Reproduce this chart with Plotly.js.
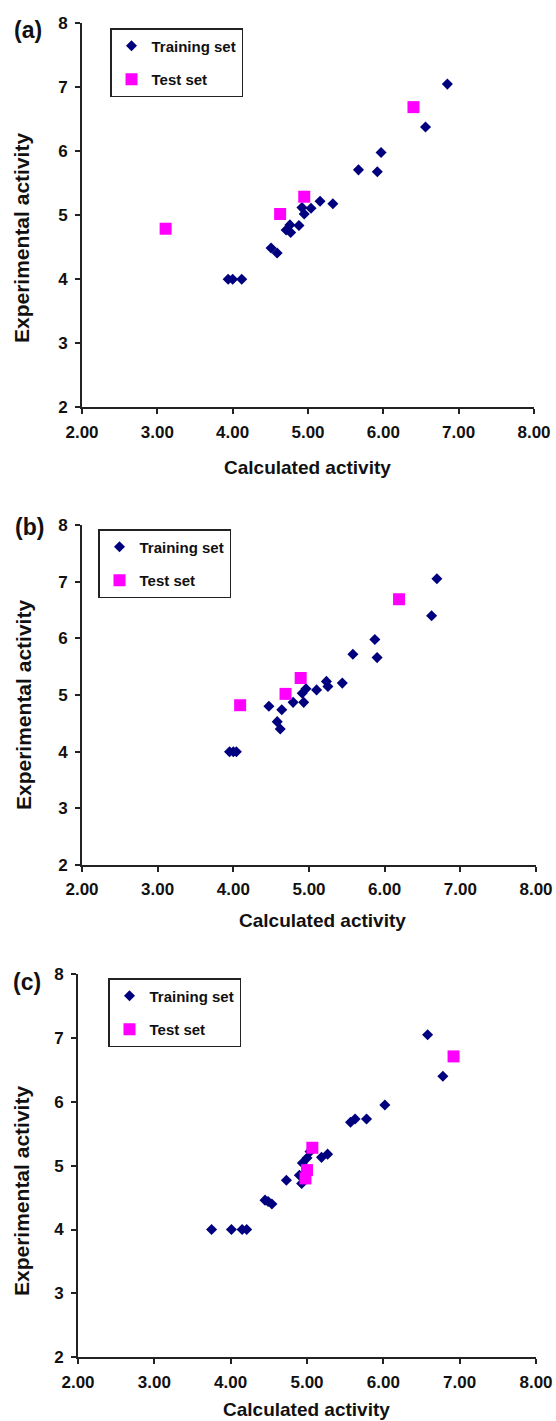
<!DOCTYPE html>
<html>
<head>
<meta charset="utf-8">
<script src="https://cdn.plot.ly/plotly-3.0.1.min.js"></script>
<style>
  html, body { margin: 0; padding: 0; background: #fff; }
  #chart { width: 556px; height: 1421px; }
</style>
</head>
<body>
<div id="chart"></div>
<script>
// ---------- data ----------
const xTicks = [2, 3, 4, 5, 6, 7, 8];
const yTicks = [2, 3, 4, 5, 6, 7, 8];
const seriesNames = ["Training set", "Test set"];
const panelLabels = ["(a)", "(b)", "(c)"];
const xTitle = "Calculated activity";
const yTitle = "Experimental activity";

// Panel (a)
const aTrainX = [6.85, 6.56, 5.97, 5.67, 5.92, 5.33, 5.16, 5.04, 4.92, 4.95, 4.88, 4.76, 4.71, 4.77, 4.51, 4.59, 3.94, 4.00, 4.12];
const aTrainY = [7.05, 6.38, 5.98, 5.71, 5.68, 5.18, 5.22, 5.11, 5.12, 5.02, 4.84, 4.85, 4.77, 4.73, 4.49, 4.41, 4.00, 4.00, 4.00];
const aTestX  = [6.40, 4.95, 4.63, 3.11];
const aTestY  = [6.69, 5.29, 5.02, 4.79];

// Panel (b)
const bTrainX = [6.69, 6.62, 5.87, 5.58, 5.90, 5.44, 5.23, 5.25, 5.10, 4.96, 4.91, 4.93, 4.79, 4.47, 4.64, 4.58, 4.62, 3.95, 4.00, 4.04];
const bTrainY = [7.05, 6.40, 5.98, 5.72, 5.66, 5.21, 5.24, 5.15, 5.09, 5.11, 5.03, 4.87, 4.87, 4.80, 4.74, 4.53, 4.40, 4.00, 4.00, 4.00];
const bTestX  = [6.19, 4.89, 4.69, 4.09];
const bTestY  = [6.69, 5.30, 5.02, 4.82];

// Panel (c)
const cTrainX = [6.58, 6.78, 6.02, 5.78, 5.63, 5.57, 5.27, 5.19, 5.04, 5.00, 4.94, 4.90, 4.93, 4.73, 4.45, 4.54, 4.49, 3.75, 4.01, 4.15, 4.21];
const cTrainY = [7.05, 6.40, 5.95, 5.73, 5.73, 5.68, 5.18, 5.13, 5.22, 5.12, 5.04, 4.85, 4.72, 4.77, 4.46, 4.40, 4.44, 4.00, 4.00, 4.00, 4.00];
const cTestX  = [6.92, 5.07, 5.00, 4.98];
const cTestY  = [6.71, 5.28, 4.93, 4.80];

// ---------- layout helpers ----------
const W = 556, H = 1421;
const px = v => v / W;
const py = v => 1 - v / H;
const FONT = "Liberation Sans, Arial, Helvetica, sans-serif";
const INK = "#111";
const LINE = "#222";
const NAVY = "#00007f";
const MAGENTA = "#ff00ff";

const panels = [
  { trX: aTrainX, trY: aTrainY, teX: aTestX, teY: aTestY,
    xd: [82, 534], yd: [23.3, 407.3], leg: [110, 28],
    lab: [28, 30], xt: [307, 467], yt: [21, 238] },
  { trX: bTrainX, trY: bTrainY, teX: bTestX, teY: bTestY,
    xd: [82, 536], yd: [525, 865], leg: [98, 529],
    lab: [29, 527], xt: [322, 921], yt: [23, 705] },
  { trX: cTrainX, trY: cTrainY, teX: cTestX, teY: cTestY,
    xd: [78, 536], yd: [974, 1357.3], leg: [108, 978],
    lab: [27, 982], xt: [306, 1409], yt: [21, 1191] }
];

const data = [];
const layout = {
  width: W, height: H,
  margin: { l: 0, r: 0, t: 0, b: 0 },
  paper_bgcolor: "#fff", plot_bgcolor: "#fff",
  showlegend: true,
  font: { family: FONT, color: INK },
  annotations: [],
  hovermode: false
};

panels.forEach((p, i) => {
  const n = i + 1;
  const xa = n === 1 ? "x" : "x" + n;
  const ya = n === 1 ? "y" : "y" + n;
  const legName = n === 1 ? "legend" : "legend" + n;

  data.push({
    type: "scatter", mode: "markers", name: seriesNames[0],
    x: p.trX, y: p.trY, xaxis: xa, yaxis: ya,
    legend: legName, legendgroup: "g" + n + "a",
    marker: { symbol: "diamond", size: 8.5, color: NAVY, line: { width: 0 } },
    cliponaxis: false
  });
  data.push({
    type: "scatter", mode: "markers", name: seriesNames[1],
    x: p.teX, y: p.teY, xaxis: xa, yaxis: ya,
    legend: legName, legendgroup: "g" + n + "b",
    marker: { symbol: "square", size: 12, color: MAGENTA, line: { width: 0 } },
    cliponaxis: false
  });

  const axBase = {
    showline: true, linecolor: LINE, linewidth: 2,
    ticks: "outside", ticklen: 5, tickwidth: 2, tickcolor: LINE,
    showgrid: false, zeroline: false, fixedrange: true,
    ticklabeloverflow: "allow",
    tickfont: { family: FONT, size: 17, color: INK }
  };
  layout[n === 1 ? "xaxis" : "xaxis" + n] = Object.assign({}, axBase, {
    domain: [px(p.xd[0]), px(p.xd[1])],
    anchor: ya, range: [2, 8],
    tickmode: "array", tickvals: xTicks,
    ticktext: xTicks.map(v => "<b>" + v.toFixed(2) + "</b>"),
    ticklabelstandoff: 3
  });
  layout[n === 1 ? "yaxis" : "yaxis" + n] = Object.assign({}, axBase, {
    domain: [py(p.yd[1]), py(p.yd[0])],
    anchor: xa, range: [2, 8],
    tickmode: "array", tickvals: yTicks,
    ticktext: yTicks.map(v => "<b>" + v + "</b>"),
    ticklabelstandoff: 4
  });

  layout[legName] = {
    x: px(p.leg[0]), y: py(p.leg[1]), xanchor: "left", yanchor: "top",
    bgcolor: "#fff", bordercolor: LINE, borderwidth: 1.5,
    font: { family: FONT, size: 15, color: INK, weight: "bold" },
    traceorder: "grouped", tracegroupgap: 11,
    itemwidth: 30
  };

  layout.annotations.push({
    xref: "paper", yref: "paper", x: px(p.lab[0]), y: py(p.lab[1]),
    xanchor: "center", yanchor: "middle", showarrow: false,
    text: "<b>" + panelLabels[i] + "</b>",
    font: { family: FONT, size: 23, color: INK }
  });
  layout.annotations.push({
    xref: "paper", yref: "paper", x: px(p.xt[0]), y: py(p.xt[1]),
    xanchor: "center", yanchor: "middle", showarrow: false,
    text: "<b>" + xTitle + "</b>",
    font: { family: FONT, size: 19, color: INK }
  });
  layout.annotations.push({
    xref: "paper", yref: "paper", x: px(p.yt[0]), y: py(p.yt[1]),
    xanchor: "center", yanchor: "middle", showarrow: false, textangle: -90,
    text: "<b>" + yTitle + "</b>",
    font: { family: FONT, size: 21, color: INK }
  });
});

Plotly.newPlot("chart", data, layout, { staticPlot: true, displayModeBar: false });
</script>
</body>
</html>
